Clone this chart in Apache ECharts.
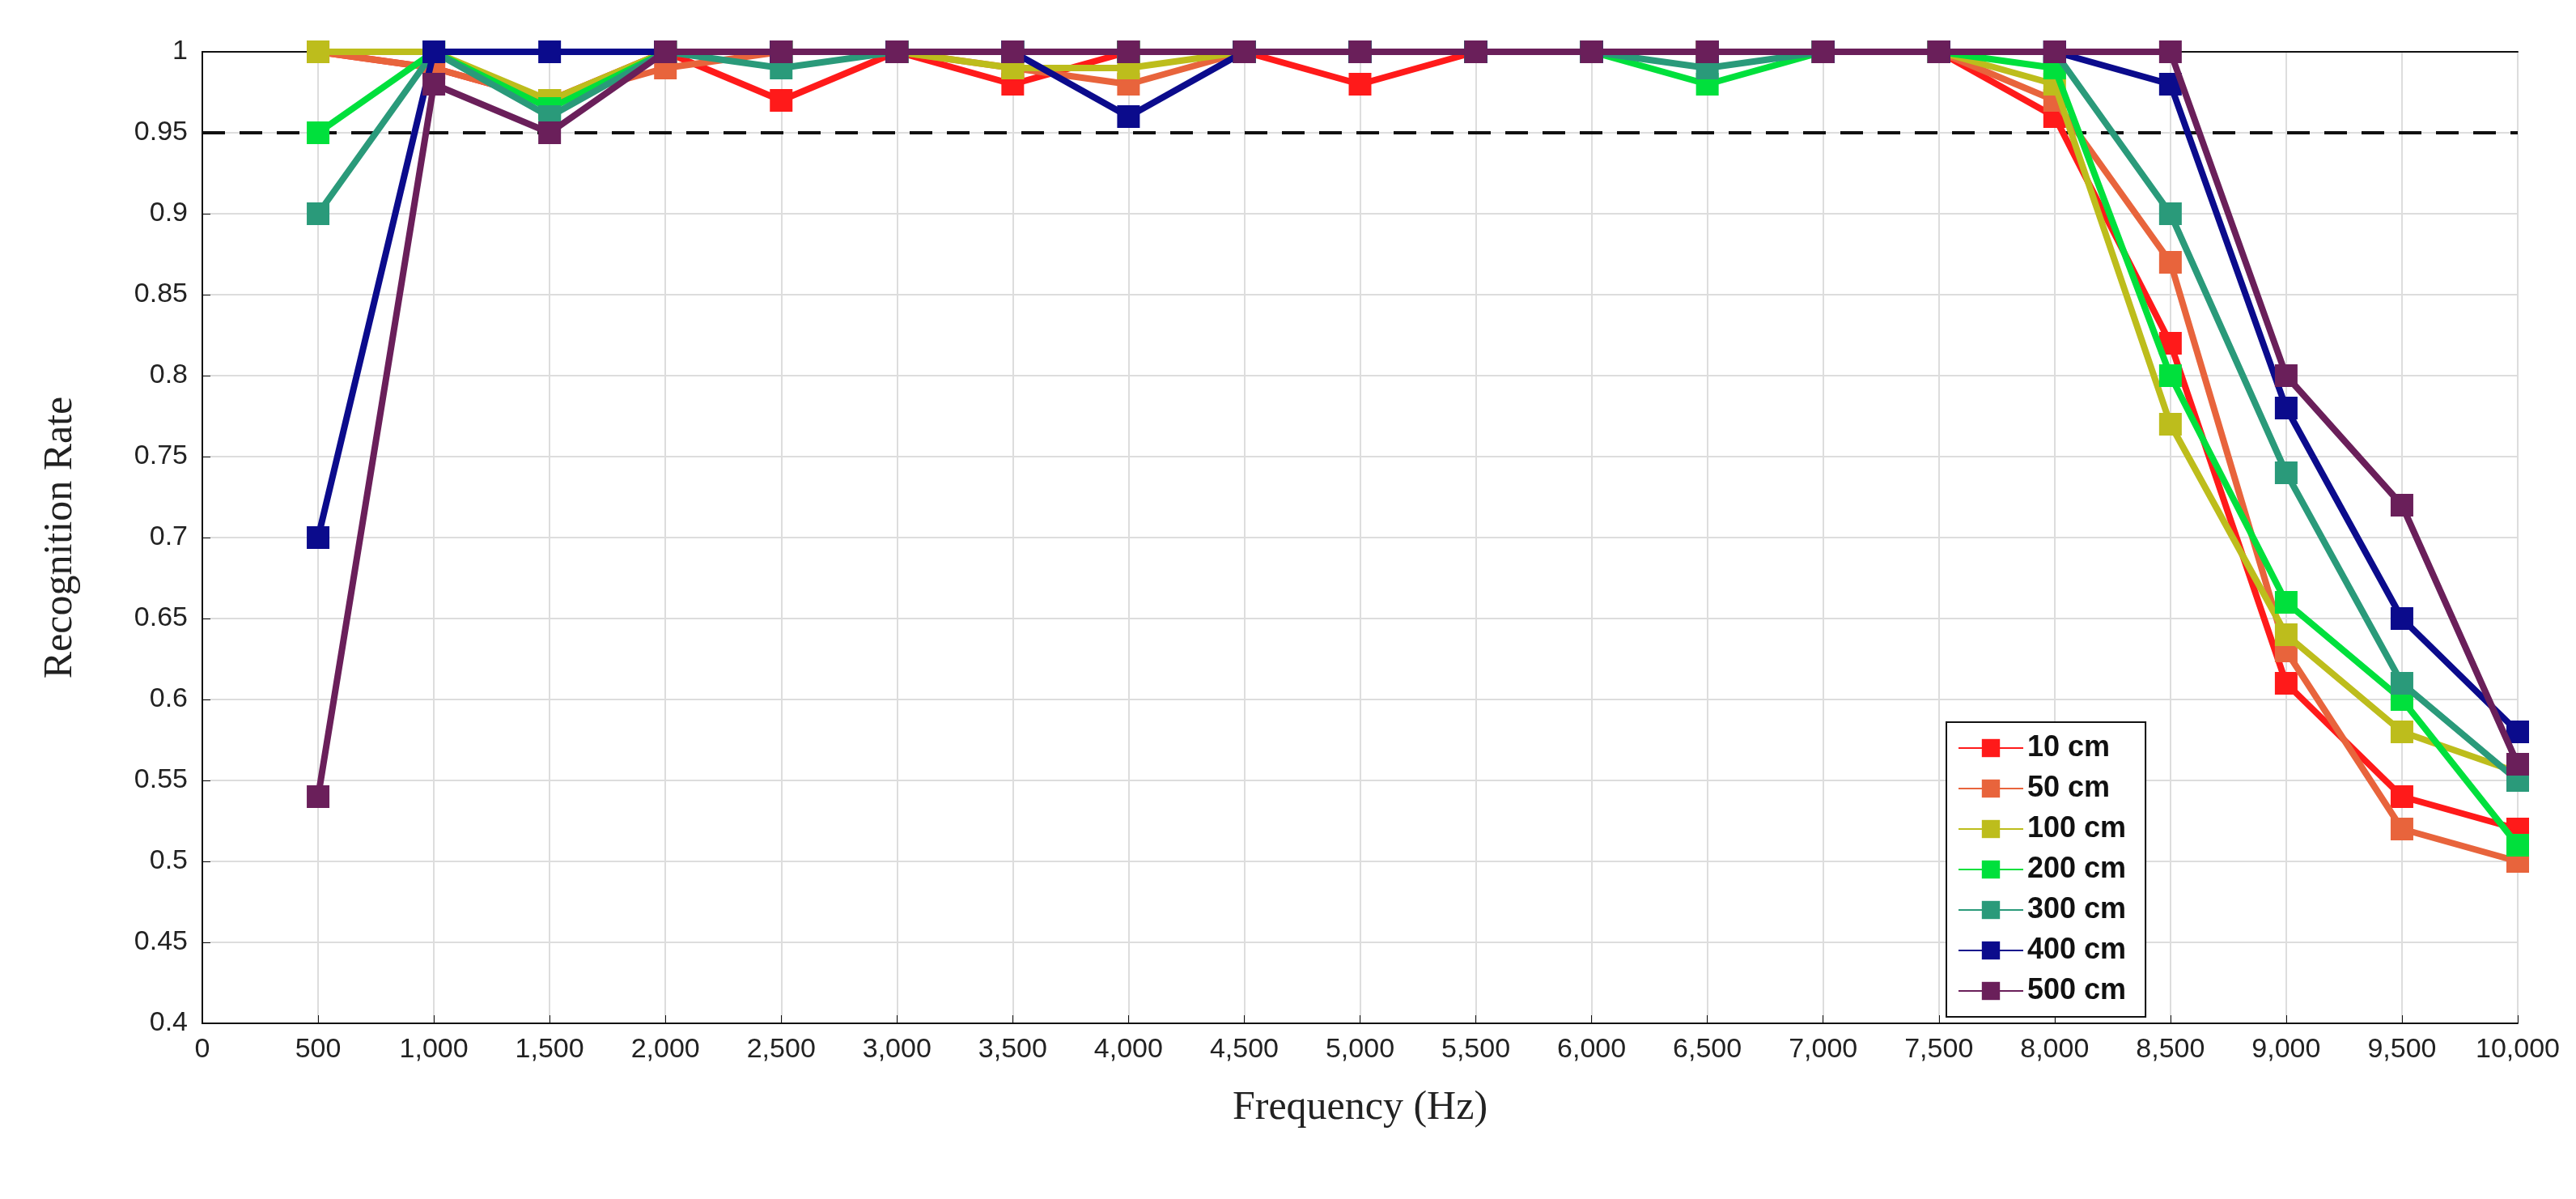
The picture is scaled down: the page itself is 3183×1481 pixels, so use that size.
<!DOCTYPE html>
<html>
<head>
<meta charset="utf-8">
<script src="https://cdn.jsdelivr.net/npm/echarts@6/dist/echarts.min.js"></script>
<style>html,body{margin:0;background:#fff}#chart{width:3183px;height:1481px}</style>
</head>
<body>
<div id="chart"></div>
<script>
const freqs = [500, 1000, 1500, 2000, 2500, 3000, 3500, 4000, 4500, 5000, 5500, 6000, 6500, 7000, 7500, 8000, 8500, 9000, 9500, 10000]
const yTicks = [0.4, 0.45, 0.5, 0.55, 0.6, 0.65, 0.7, 0.75, 0.8, 0.85, 0.9, 0.95, 1]
const names = ['10 cm', '50 cm', '100 cm', '200 cm', '300 cm', '400 cm', '500 cm']
const colors = ['#ff1a1a', '#e8643c', '#bdbd1c', '#00e03c', '#2a9a7a', '#0b0b8c', '#6a1f5a']
const cm10 = [1, 0.99, 0.97, 1, 0.97, 1, 0.98, 1, 1, 0.98, 1, 1, 1, 1, 1, 0.96, 0.82, 0.61, 0.54, 0.52]
const cm50 = [1, 0.99, 0.97, 0.99, 1, 1, 0.99, 0.98, 1, 1, 1, 1, 1, 1, 1, 0.97, 0.87, 0.63, 0.52, 0.50]
const cm100 = [1, 1, 0.97, 1, 1, 1, 0.99, 0.99, 1, 1, 1, 1, 1, 1, 1, 0.98, 0.77, 0.64, 0.58, 0.555]
const cm200 = [0.95, 1, 0.965, 1, 1, 1, 1, 1, 1, 1, 1, 1, 0.98, 1, 1, 0.99, 0.80, 0.66, 0.60, 0.51]
const cm300 = [0.90, 1, 0.96, 1, 0.99, 1, 1, 1, 1, 1, 1, 1, 0.99, 1, 1, 1, 0.90, 0.74, 0.61, 0.55]
const cm400 = [0.70, 1, 1, 1, 1, 1, 1, 0.96, 1, 1, 1, 1, 1, 1, 1, 1, 0.98, 0.78, 0.65, 0.58]
const cm500 = [0.54, 0.98, 0.95, 1, 1, 1, 1, 1, 1, 1, 1, 1, 1, 1, 1, 1, 1, 0.80, 0.72, 0.56]
const threshold = 0.95
const allData = [cm10, cm50, cm100, cm200, cm300, cm400, cm500]

const chart = echarts.init(document.getElementById('chart'))
const axisFont = { color: '#222', fontSize: 34, fontFamily: 'Liberation Sans' }
const nameFont = { color: '#222', fontSize: 50, fontFamily: 'Liberation Serif' }

const series = names.map((name, i) => ({
  name,
  type: 'line',
  data: freqs.map((f, j) => [f, allData[i][j]]),
  symbol: 'rect',
  symbolSize: 28,
  lineStyle: { width: 8, color: colors[i] },
  itemStyle: { color: colors[i] },
  z: 10 + i
}))
series[0].markLine = {
  silent: true,
  symbol: 'none',
  label: { show: false },
  lineStyle: { color: '#111', type: [28, 18], width: 4 },
  data: [{ yAxis: threshold }]
}

chart.setOption({
  animation: false,
  grid: { left: 250, right: 72, top: 64, bottom: 217 },
  legend: {
    orient: 'vertical',
    left: 2405,
    top: 892,
    itemWidth: 80,
    itemHeight: 28,
    itemGap: 14,
    padding: [14, 24, 14, 14],
    backgroundColor: '#fff',
    borderColor: '#111',
    borderWidth: 2,
    textStyle: { fontSize: 36, fontWeight: 'bold', color: '#111', fontFamily: 'Liberation Sans' },
    data: names
  },
  xAxis: [{
    type: 'value',
    min: 0,
    max: 10000,
    interval: 500,
    name: 'Frequency (Hz)',
    nameLocation: 'middle',
    nameGap: 80,
    nameTextStyle: nameFont,
    axisLine: { lineStyle: { color: '#111', width: 2 } },
    axisTick: { inside: true, length: 10, lineStyle: { color: '#111' } },
    axisLabel: { ...axisFont, margin: 16, formatter: v => v.toLocaleString('en-US') },
    splitLine: { show: true, lineStyle: { color: '#ddd', width: 2 } }
  }, {
    type: 'value', min: 0, max: 10000, position: 'top',
    axisLine: { show: true, lineStyle: { color: '#111', width: 2 } },
    axisTick: { show: false }, axisLabel: { show: false }, splitLine: { show: false }
  }],
  yAxis: [{
    type: 'value',
    min: 0.4,
    max: 1,
    interval: 0.05,
    name: 'Recognition Rate',
    nameLocation: 'middle',
    nameGap: 150,
    nameTextStyle: nameFont,
    axisLine: { show: true, lineStyle: { color: '#111', width: 2 } },
    axisTick: { inside: true, length: 10, lineStyle: { color: '#111' } },
    axisLabel: { ...axisFont, margin: 18, formatter: v => {
      const t = yTicks.find(y => Math.abs(y - v) < 1e-6)
      return t === undefined ? '' : String(t)
    } },
    splitLine: { show: true, lineStyle: { color: '#ddd', width: 2 } }
  }, {
    type: 'value', min: 0.4, max: 1, position: 'right',
    axisLine: { show: true, lineStyle: { color: '#111', width: 2 } },
    axisTick: { show: false }, axisLabel: { show: false }, splitLine: { show: false }
  }],
  series
})
</script>
</body>
</html>
